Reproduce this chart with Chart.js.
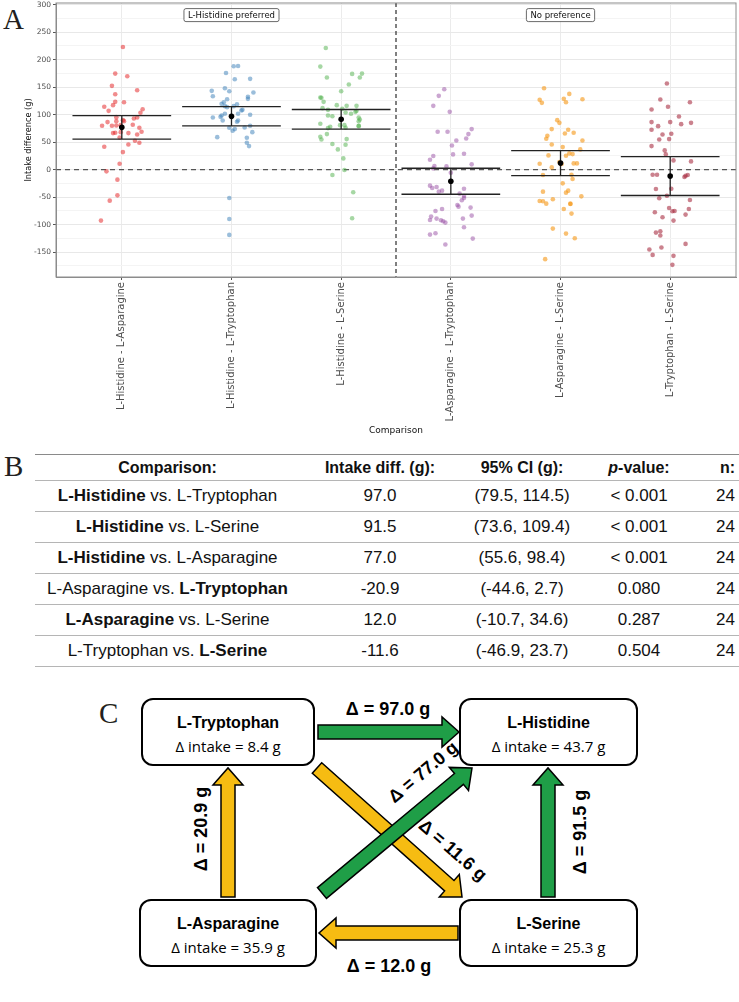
<!DOCTYPE html>
<html>
<head>
<meta charset="utf-8">
<script src="https://cdn.jsdelivr.net/npm/chart.js@4.4.1/dist/chart.umd.min.js"></script>
<style>
  body { margin: 0; background: #fff; width: 739px; height: 1002px; position: relative; overflow: hidden; font-family: 'Liberation Sans', Arial, sans-serif; }
  .letter { position: absolute; font-family: 'Liberation Serif', serif; font-size: 29px; color: #231f20; line-height: 1; }
  #chartA { position: absolute; left: 0; top: 0; }
  #tableB { position: absolute; left: 35px; top: 454px; width: 704px; border-collapse: collapse; table-layout: fixed; font-size: 17px; color: #111; }
  #tableB th, #tableB td { padding: 0; text-align: center; border-bottom: 1px solid #b5b5b5; white-space: nowrap; }
  #tableB th { height: 25px; font-size: 16px; }
  #tableB td { height: 30px; }
  #tableB tr:first-child th { border-top: 1px solid #8a8a8a; }
  #tableB .n { text-align: right; padding-right: 4px; }
  #diagramC { position: absolute; left: 0; top: 670px; }
</style>
</head>
<body>
<div class="letter" style="left:3px;top:5px">A</div>
<div class="letter" style="left:4px;top:452px">B</div>
<div class="letter" style="left:99px;top:699px">C</div>
<canvas id="chartA" width="739" height="440"></canvas>
<table id="tableB">
  <colgroup><col style="width:265px"><col style="width:160px"><col style="width:124px"><col style="width:110px"><col style="width:45px"></colgroup>
  <thead></thead>
  <tbody></tbody>
</table>
<svg id="diagramC" width="739" height="332" viewBox="0 670 739 332"></svg>

<script>
// x categories of panel A
const comparisons = ['L-Histidine - L-Asparagine', 'L-Histidine - L-Tryptophan', 'L-Histidine - L-Serine',
  'L-Asparagine - L-Tryptophan', 'L-Asparagine - L-Serine', 'L-Tryptophan - L-Serine'];

// individual intake differences (g) and their horizontal jitter (category units)
const hisAsn = [223.1,174.7,169.9,152.4,144.5,137.2,123.3,122.7,117.3,114.3,110.0,107.0,103.4,94.9,93.1,95.5,88.3,90.1,88.3,86.5,
  81.6,79.8,79.8,80.4,81.0,76.2,68.3,67.1,66.5,66.5,68.9,64.1,58.6,52.6,49.0,45.9,41.7,32.0,10.9,-3.0,-18.1,-46.6,-56.2,-92.5];
const hisAsnJit = [0.01,-0.06,0.05,-0.09,0.14,-0.06,-0.06,0.02,-0.08,-0.16,0.19,-0.12,0.17,0.14,0.11,-0.05,-0.05,0.01,0.02,-0.13,
  0.10,-0.18,-0.09,-0.05,-0.01,0.16,-0.01,-0.06,-0.08,0.06,0.18,0.14,-0.02,0.12,0.16,0.06,-0.16,0.01,-0.02,-0.14,-0.04,-0.04,-0.11,-0.19];

const hisTrp = [188.0,188.6,175.9,164.4,165.1,148.1,143.3,142.7,140.3,133.6,132.4,128.8,128.2,122.7,119.7,119.1,115.5,115.5,113.7,108.8,
  107.6,101.6,101.6,98.5,99.8,96.1,94.9,89.5,89.5,87.1,79.8,76.2,73.8,70.7,76.8,68.3,59.2,58.0,49.0,42.9,-51.4,-89.5,-118.5];
const hisTrpJit = [0.02,0.06,-0.05,0.03,0.17,-0.06,-0.18,-0.02,0.20,-0.17,0.15,0.15,-0.04,-0.07,-0.09,0.05,0.02,-0.06,-0.04,0.10,
  0.09,0.06,-0.06,-0.09,0.17,-0.10,-0.17,-0.08,0.06,0.05,0.17,-0.02,0.03,0.01,0.12,0.19,-0.13,0.14,0.14,0.16,-0.02,-0.02,-0.02];

const hisSer = [221.3,187.4,174.1,174.7,167.5,167.5,154.8,142.7,131.2,130.6,123.3,117.3,116.1,116.1,111.9,110.6,108.8,107.0,105.2,104.0,
  101.6,98.5,97.3,94.9,91.3,88.3,83.4,81.0,81.0,78.0,75.6,76.2,79.2,79.8,59.9,55.0,64.7,55.6,46.6,45.3,36.9,20.6,-0.6,-9.7,-41.1,-88.3];
const hisSerJit = [-0.14,-0.19,0.10,0.19,-0.13,0.17,0.07,0.00,-0.19,-0.18,-0.16,-0.04,0.05,0.14,-0.17,0.01,-0.12,0.14,0.13,0.04,
  0.09,-0.12,-0.08,0.16,0.17,0.16,-0.19,-0.01,0.03,-0.10,-0.12,0.04,0.16,0.16,-0.19,-0.18,-0.13,0.05,-0.08,0.04,-0.03,0.02,0.03,-0.08,0.11,0.10];

const asnTrp = [146.3,134.2,116.1,105.2,68.9,68.9,73.8,64.7,56.8,53.2,44.1,27.8,29.0,24.8,18.1,9.7,6.6,6.0,2.4,-5.4,
  -29.0,-33.3,-31.4,-38.1,-39.9,-34.5,-43.5,-47.8,-51.4,-55.6,-64.1,-67.1,-68.9,-71.3,-75.0,-85.2,-91.3,-88.9,-91.9,-93.7,
  -96.1,-83.4,-88.9,-104.6,-117.9,-115.5,-125.2,-136.0];
const asnTrpJit = [-0.06,-0.11,-0.16,-0.01,-0.12,-0.03,0.19,0.16,0.14,0.05,0.01,0.02,0.12,-0.16,-0.19,0.19,-0.15,-0.04,-0.16,0.00,
  -0.19,-0.17,-0.13,-0.08,-0.11,0.12,0.08,0.12,0.12,0.10,0.06,0.07,0.18,-0.08,-0.14,-0.18,-0.19,-0.13,-0.09,-0.07,
  -0.05,0.19,0.11,0.12,-0.19,-0.14,0.20,-0.05];

const asnSer = [148.1,137.8,127.0,121.5,128.8,122.7,128.2,90.1,85.2,73.8,72.6,65.9,67.1,61.7,56.2,53.2,45.9,41.1,36.9,26.0,
  25.4,29.6,28.4,10.9,4.2,13.9,10.3,11.5,11.5,-9.7,-9.1,-16.9,-24.8,-38.1,-41.7,-39.9,-48.4,-56.8,-57.4,-61.7,
  -53.8,-61.7,-62.3,-71.3,-79.8,-107.0,-116.1,-124.5,-162.6];
const asnSerJit = [-0.15,0.08,-0.19,-0.17,0.03,0.05,0.20,-0.03,-0.01,-0.08,0.07,0.04,0.12,-0.12,-0.13,0.20,-0.08,0.02,0.18,-0.11,
  0.05,0.08,0.11,-0.19,-0.08,-0.01,0.01,0.12,0.15,-0.16,0.10,0.11,0.02,0.07,0.05,-0.16,0.19,-0.19,-0.16,-0.13,
  -0.07,0.09,0.09,0.03,0.10,-0.07,0.05,0.13,-0.14];

const trpSer = [156.6,127.6,122.7,114.3,109.4,96.7,86.5,86.5,82.8,85.2,79.2,72.6,64.1,65.3,55.0,55.6,42.9,35.1,27.8,16.9,
  15.1,-9.1,-9.1,-13.3,-10.9,-9.7,-35.1,-34.5,-52.0,-47.2,-55.0,-69.5,-75.6,-75.0,-71.3,-77.4,-81.6,-86.5,-92.5,-111.9,
  -114.3,-119.7,-134.8,-145.1,-141.5,-154.8,-156.6,-172.9];
const trpSerJit = [-0.03,-0.09,0.18,-0.02,-0.17,0.08,-0.17,0.00,0.10,0.19,-0.11,-0.17,-0.07,0.01,-0.10,-0.01,-0.17,-0.05,-0.04,0.03,
  0.19,-0.16,-0.12,0.13,0.14,0.16,-0.13,0.01,-0.10,-0.03,0.18,-0.01,0.02,0.04,0.17,-0.14,0.14,-0.07,0.03,-0.09,
  -0.13,-0.09,0.14,-0.19,-0.08,-0.16,0.03,0.02];

// mean difference and 95% CI per comparison (same order as comparisons)
const means  = [77.0, 97.0, 91.5, -20.9, 12.0, -11.6];
const ciLow  = [55.6, 79.5, 73.6, -44.6, -10.7, -46.9];
const ciHigh = [98.4, 114.5, 109.4, 2.7, 34.6, 23.7];
const pValues = ['< 0.001', '< 0.001', '< 0.001', '0.080', '0.287', '0.504'];
const nSubjects = [24, 24, 24, 24, 24, 24];

const sectionLabels = ['L-Histidine preferred', 'No preference'];

// panel B: rows listed in this order of the comparisons
const tableOrder = [1, 2, 0, 3, 4, 5];
const pairFirst  = ['L-Histidine', 'L-Histidine', 'L-Histidine', 'L-Asparagine', 'L-Asparagine', 'L-Tryptophan'];
const pairSecond = ['L-Tryptophan', 'L-Serine', 'L-Asparagine', 'L-Tryptophan', 'L-Serine', 'L-Serine'];
const preferredIdx = [0, 0, 0, 1, 0, 1];

// panel C
const aminoAcids = ['L-Tryptophan', 'L-Histidine', 'L-Asparagine', 'L-Serine'];
const intakes = [8.4, 43.7, 35.9, 25.3];

const pointColors = ['rgba(228,26,28,0.5)', 'rgba(55,126,184,0.5)', 'rgba(77,175,74,0.5)',
  'rgba(152,78,163,0.5)', 'rgba(245,150,20,0.6)', 'rgba(165,40,60,0.58)'];

const groups = [[hisAsn, hisAsnJit], [hisTrp, hisTrpJit], [hisSer, hisSerJit],
  [asnTrp, asnTrpJit], [asnSer, asnSerJit], [trpSer, trpSerJit]];

Chart.defaults.font.family = "'DejaVu Sans', sans-serif";

const datasets = groups.map(([vals, jit], i) => ({
  data: vals.map((v, k) => ({ x: i + 1 + jit[k], y: v })),
  backgroundColor: pointColors[i],
  borderWidth: 0,
  pointRadius: 2.3,
  pointHoverRadius: 2.3,
}));

const panelExtras = {
  id: 'panelExtras',
  beforeDatasetsDraw(chart) {
    const { ctx, chartArea: a, scales: { x, y } } = chart;
    ctx.save();
    // zero line
    const y0 = y.getPixelForValue(0);
    ctx.setLineDash([5, 4]);
    ctx.strokeStyle = '#555';
    ctx.lineWidth = 1.2;
    ctx.beginPath(); ctx.moveTo(a.left, y0); ctx.lineTo(a.right, y0); ctx.stroke();
    // divider between preferred / no preference
    const xd = x.getPixelForValue(3.5);
    ctx.setLineDash([4, 3]);
    ctx.strokeStyle = '#000';
    ctx.lineWidth = 1;
    ctx.beginPath(); ctx.moveTo(xd, a.top); ctx.lineTo(xd, a.bottom); ctx.stroke();
    ctx.restore();
  },
  afterDatasetsDraw(chart) {
    const { ctx, chartArea: a, scales: { x, y } } = chart;
    ctx.save();
    ctx.setLineDash([]);
    means.forEach((m, i) => {
      const c = x.getPixelForValue(i + 1);
      const l = x.getPixelForValue(i + 1 - 0.45), r = x.getPixelForValue(i + 1 + 0.45);
      const hi = y.getPixelForValue(ciHigh[i]), lo = y.getPixelForValue(ciLow[i]);
      ctx.strokeStyle = '#222';
      ctx.lineWidth = 1.3;
      ctx.beginPath();
      ctx.moveTo(l, hi); ctx.lineTo(r, hi);
      ctx.moveTo(l, lo); ctx.lineTo(r, lo);
      ctx.moveTo(c, hi); ctx.lineTo(c, lo);
      ctx.stroke();
      ctx.fillStyle = '#000';
      ctx.beginPath(); ctx.arc(c, y.getPixelForValue(m), 2.8, 0, Math.PI * 2); ctx.fill();
    });
    // section boxes
    ctx.font = "8.5px 'DejaVu Sans'";
    ctx.textAlign = 'center';
    ctx.textBaseline = 'middle';
    [[2, sectionLabels[0]], [5, sectionLabels[1]]].forEach(([cx, txt]) => {
      const px = x.getPixelForValue(cx), py = y.getPixelForValue(281);
      const w = ctx.measureText(txt).width + 8;
      ctx.fillStyle = '#fff';
      ctx.strokeStyle = '#444';
      ctx.lineWidth = 0.8;
      ctx.beginPath(); ctx.roundRect(px - w / 2, py - 6.5, w, 13, 2); ctx.fill(); ctx.stroke();
      ctx.fillStyle = '#111';
      ctx.fillText(txt, px, py + 0.5);
    });
    // panel border
    ctx.strokeStyle = '#8c8c8c';
    ctx.lineWidth = 1;
    ctx.strokeRect(a.left, a.top, a.right - a.left, a.bottom - a.top);
    ctx.restore();
  }
};

new Chart(document.getElementById('chartA').getContext('2d'), {
  type: 'scatter',
  data: { datasets },
  plugins: [panelExtras],
  options: {
    responsive: false,
    animation: false,
    layout: { padding: { top: 3, right: 3, left: 0, bottom: 0 } },
    plugins: { legend: { display: false }, tooltip: { enabled: false } },
    scales: {
      x: {
        type: 'linear',
        min: 0.4,
        max: 6.6,
        afterBuildTicks: (s) => { s.ticks = comparisons.map((_, i) => ({ value: i + 1 })); },
        afterFit: (s) => { s.height = 163; s.paddingLeft = 0; s.paddingRight = 0; },
        ticks: {
          callback: (v) => comparisons[Math.round(v) - 1],
          minRotation: 90, maxRotation: 90, autoSkip: false,
          font: { size: 10 }, color: '#4d4d4d', padding: 2,
        },
        grid: { color: '#ebebeb', tickLength: 3, tickColor: '#555' },
        border: { color: '#8c8c8c' },
        title: { display: true, text: 'Comparison', font: { size: 9 }, color: '#111', padding: { top: 0, bottom: 3.6 } },
      },
      y: {
        min: -195,
        max: 303,
        afterFit: (s) => { s.width = 56; s.paddingTop = 0; s.paddingBottom = 0; },
        ticks: {
          stepSize: 25, includeBounds: false, autoSkip: false,
          callback: (v) => (v % 50 === 0 ? v : ''),
          font: { size: 7.5 }, color: '#4d4d4d', padding: 2,
        },
        grid: {
          color: (c) => (c.tick && c.tick.value % 50 === 0 ? '#e8e8e8' : '#f4f4f4'),
          tickColor: (c) => (c.tick && c.tick.value % 50 === 0 ? '#555' : 'rgba(0,0,0,0)'),
          tickLength: 3,
        },
        border: { color: '#8c8c8c' },
        title: { display: true, text: 'Intake difference (g)', font: { size: 8.2 }, color: '#111', padding: { top: 24, bottom: 0 } },
      },
    },
  },
});

// panel B table
const thead = document.querySelector('#tableB thead');
thead.innerHTML = '<tr><th>Comparison:</th><th>Intake diff. (g):</th><th>95% CI (g):</th><th><i>p</i>-value:</th><th class="n">n:</th></tr>';
const tbody = document.querySelector('#tableB tbody');
tableOrder.forEach((ci, r) => {
  const a = preferredIdx[r] === 0 ? '<b>' + pairFirst[r] + '</b>' : pairFirst[r];
  const b = preferredIdx[r] === 1 ? '<b>' + pairSecond[r] + '</b>' : pairSecond[r];
  const tr = document.createElement('tr');
  tr.innerHTML = '<td>' + a + ' vs. ' + b + '</td><td>' + means[ci].toFixed(1) + '</td><td>(' +
    ciLow[ci].toFixed(1) + ', ' + ciHigh[ci].toFixed(1) + ')</td><td>' + pValues[ci] + '</td><td class="n">' + nSubjects[ci] + '</td>';
  tbody.appendChild(tr);
});

// panel C diagram
const svg = document.getElementById('diagramC');
const boxes = [
  { x: 142, y: 699, w: 172, h: 66 },
  { x: 460, y: 699, w: 177, h: 66 },
  { x: 140, y: 900, w: 176, h: 66 },
  { x: 460, y: 900, w: 177, h: 66 },
];
const GREEN = '#1f9e47', YELLOW = '#f6bc12';
// from, to (pixel), comparison index for the delta, colour, label position and angle
const arrows = [
  { p: [317, 768, 462, 897], ci: 5, col: YELLOW, lx: 453, ly: 850, rot: 41 },
  { p: [318, 732, 459, 732], ci: 1, col: GREEN, lx: 388, ly: 709, rot: 0 },
  { p: [548, 897, 548, 768], ci: 2, col: GREEN, lx: 580, ly: 832, rot: -90 },
  { p: [322, 893, 472, 768], ci: 0, col: GREEN, lx: 423, ly: 772, rot: -40 },
  { p: [228, 897, 228, 768], ci: 3, col: YELLOW, lx: 201, ly: 829, rot: -90 },
  { p: [458, 933, 319, 933], ci: 4, col: YELLOW, lx: 389, ly: 966, rot: 0 },
];

function arrowPath(x1, y1, x2, y2) {
  const L = Math.hypot(x2 - x1, y2 - y1), ux = (x2 - x1) / L, uy = (y2 - y1) / L, nx = -uy, ny = ux;
  const sw = 7, hw = 15, hl = 17;
  const bx = x2 - ux * hl, by = y2 - uy * hl;
  const pts = [[x1 + nx * sw, y1 + ny * sw], [bx + nx * sw, by + ny * sw], [bx + nx * hw, by + ny * hw], [x2, y2],
    [bx - nx * hw, by - ny * hw], [bx - nx * sw, by - ny * sw], [x1 - nx * sw, y1 - ny * sw]];
  return pts.map((q) => q[0].toFixed(1) + ',' + q[1].toFixed(1)).join(' ');
}

let html = '';
arrows.forEach((ar) => {
  html += '<polygon points="' + arrowPath(...ar.p) + '" fill="' + ar.col + '" stroke="#000" stroke-width="1.5" stroke-linejoin="miter"/>';
});
arrows.forEach((ar) => {
  html += '<text transform="translate(' + ar.lx + ',' + ar.ly + ') rotate(' + ar.rot + ')" text-anchor="middle" dominant-baseline="central" ' +
    'font-family="Liberation Sans, Arial, sans-serif" font-weight="bold" font-size="18" fill="#000">\u0394 = ' +
    Math.abs(means[ar.ci]).toFixed(1) + ' g</text>';
});
boxes.forEach((b, i) => {
  html += '<rect x="' + b.x + '" y="' + b.y + '" width="' + b.w + '" height="' + b.h + '" rx="11" fill="#fff" stroke="#000" stroke-width="2"/>';
  html += '<text x="' + (b.x + b.w / 2) + '" y="' + (b.y + 23) + '" text-anchor="middle" dominant-baseline="central" ' +
    'font-family="Liberation Sans, Arial, sans-serif" font-weight="bold" font-size="16">' + aminoAcids[i] + '</text>';
  html += '<text x="' + (b.x + b.w / 2) + '" y="' + (b.y + 47) + '" text-anchor="middle" dominant-baseline="central" ' +
    'font-family="Open Sans, sans-serif" font-size="15">\u0394 intake = ' + intakes[i].toFixed(1) + ' g</text>';
});
svg.innerHTML = html;
</script>
</body>
</html>
